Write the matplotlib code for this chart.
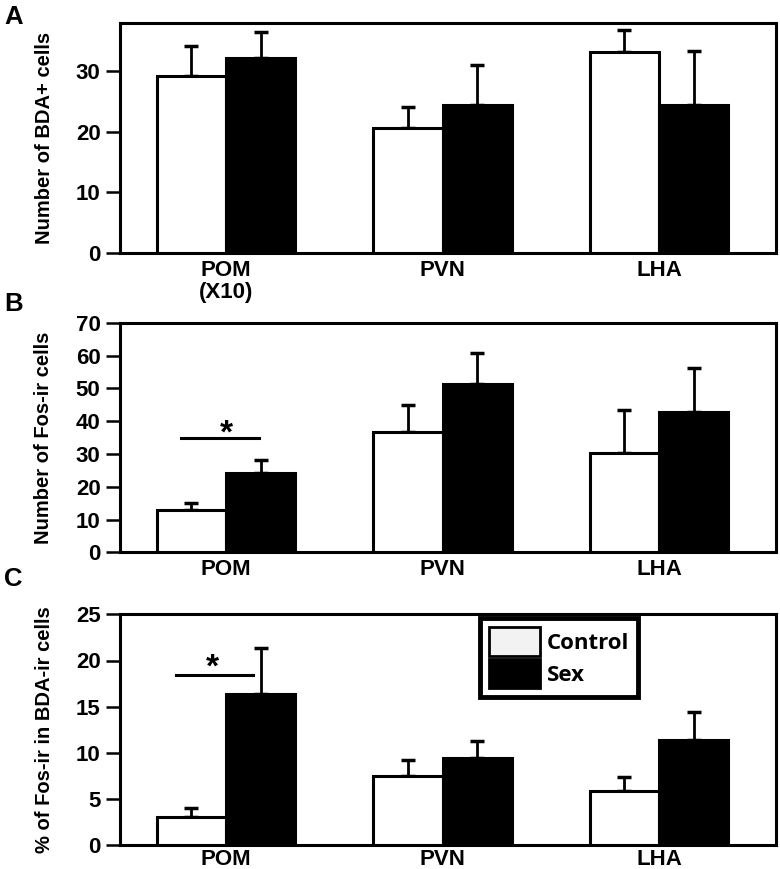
import matplotlib
matplotlib.use("Agg")
import matplotlib.pyplot as plt
import numpy as np
from matplotlib.patches import Patch

plt.rcParams['font.family'] = ['Liberation Sans', 'DejaVu Sans']

regions = ["POM", "PVN", "LHA"]
regions_A = ["POM\n(X10)", "PVN", "LHA"]

# Panel A: Number of BDA+ cells
a_control = [29.3, 20.6, 33.2]
a_control_err = [4.9, 3.6, 3.6]
a_sex = [32.3, 24.5, 24.5]
a_sex_err = [4.2, 6.5, 8.9]

# Panel B: Number of Fos-ir cells
b_control = [12.8, 36.8, 30.3]
b_control_err = [2.3, 8.2, 13.0]
b_sex = [24.2, 51.4, 42.9]
b_sex_err = [3.8, 9.4, 13.3]

# Panel C: % of Fos-ir in BDA-ir cells
c_control = [3.07, 7.5, 5.9]
c_control_err = [1.0, 1.7, 1.5]
c_sex = [16.4, 9.45, 11.4]
c_sex_err = [4.9, 1.85, 3.0]

W, H = 780, 869
fig = plt.figure(figsize=(W / 100, H / 100), dpi=100)

def ax_rect(left, top, right, bottom):
    return [left / W, 1 - bottom / H, (right - left) / W, (bottom - top) / H]

axA = fig.add_axes(ax_rect(120, 23, 776, 253))
axB = fig.add_axes(ax_rect(120, 322.7, 776, 552.3))
axC = fig.add_axes(ax_rect(120, 614.3, 776, 845.3))

bw = 0.32
x = np.arange(len(regions))

def draw(ax, ctrl, ctrl_err, sex, sex_err, ylim, yticks, ylabel, cats, xpad=5):
    ax.bar(x - bw / 2, ctrl, bw, color='white', edgecolor='black', linewidth=2.2, zorder=3)
    ax.bar(x + bw / 2, sex, bw, color='black', edgecolor='black', linewidth=2.2, zorder=3)
    ax.errorbar(x - bw / 2, ctrl, yerr=[np.zeros(3), ctrl_err], fmt='none',
                ecolor='black', elinewidth=2, capsize=5, capthick=2.5, zorder=2)
    ax.errorbar(x + bw / 2, sex, yerr=[np.zeros(3), sex_err], fmt='none',
                ecolor='black', elinewidth=2, capsize=5, capthick=2.5, zorder=2)
    ax.set_xlim(-0.49, 2.54)
    ax.set_ylim(*ylim)
    ax.set_yticks(yticks)
    ax.set_xticks(x)
    ax.set_xticklabels(cats, fontsize=16, fontweight='bold', linespacing=1.05)
    ax.tick_params(axis='x', length=0, pad=xpad)
    ax.tick_params(axis='y', length=10, width=1.8, pad=4, labelsize=16)
    for lab in ax.get_yticklabels():
        lab.set_fontweight('bold')
    for s in ax.spines.values():
        s.set_linewidth(2.2)
    ax.set_ylabel(ylabel, fontsize=14.5, fontweight='bold', labelpad=16)

draw(axA, a_control, a_control_err, a_sex, a_sex_err, (0, 38), [0, 10, 20, 30],
     "Number of BDA+ cells", regions_A)
draw(axB, b_control, b_control_err, b_sex, b_sex_err, (0, 70), list(range(0, 71, 10)),
     "Number of Fos-ir cells", regions)
draw(axC, c_control, c_control_err, c_sex, c_sex_err, (0, 25), [0, 5, 10, 15, 20, 25],
     "% of Fos-ir in BDA-ir cells", regions, xpad=2.5)

# significance markers
axB.plot([-0.21, 0.15], [34.7, 34.7], color='black', lw=2.2)
axB.text(0.0, 33.4, "*", ha='center', va='baseline', fontsize=24, fontweight='bold')
axC.plot([-0.23, 0.125], [18.4, 18.4], color='black', lw=2.2)
axC.text(-0.065, 18.3, "*", ha='center', va='baseline', fontsize=24, fontweight='bold')

# legend
handles = [Patch(facecolor='#f2f2f2', edgecolor='black', linewidth=2, label='Control'),
           Patch(facecolor='black', edgecolor='black', linewidth=2, label='Sex')]
leg = axC.legend(handles=handles, loc='upper left', bbox_to_anchor=(0.549, 0.984),
                 prop={'family': 'Open Sans', 'weight': 'bold', 'size': 16},
                 handlelength=2.3, handleheight=1.65, labelspacing=0.12,
                 handletextpad=0.3, borderpad=0.4, borderaxespad=0,
                 frameon=True, fancybox=False, framealpha=1)
leg.get_frame().set_edgecolor('black')
leg.get_frame().set_linewidth(3.5)

# panel letters
fig.text(4 / W, 1 - 5 / H, "A", fontsize=18.5, fontweight='bold', va='top', ha='left')
fig.text(4 / W, 1 - 292 / H, "B", fontsize=18.5, fontweight='bold', va='top', ha='left')
fig.text(4 / W, 1 - 567 / H, "C", fontsize=18.5, fontweight='bold', va='top', ha='left')

fig.savefig("out.png", dpi=100)
